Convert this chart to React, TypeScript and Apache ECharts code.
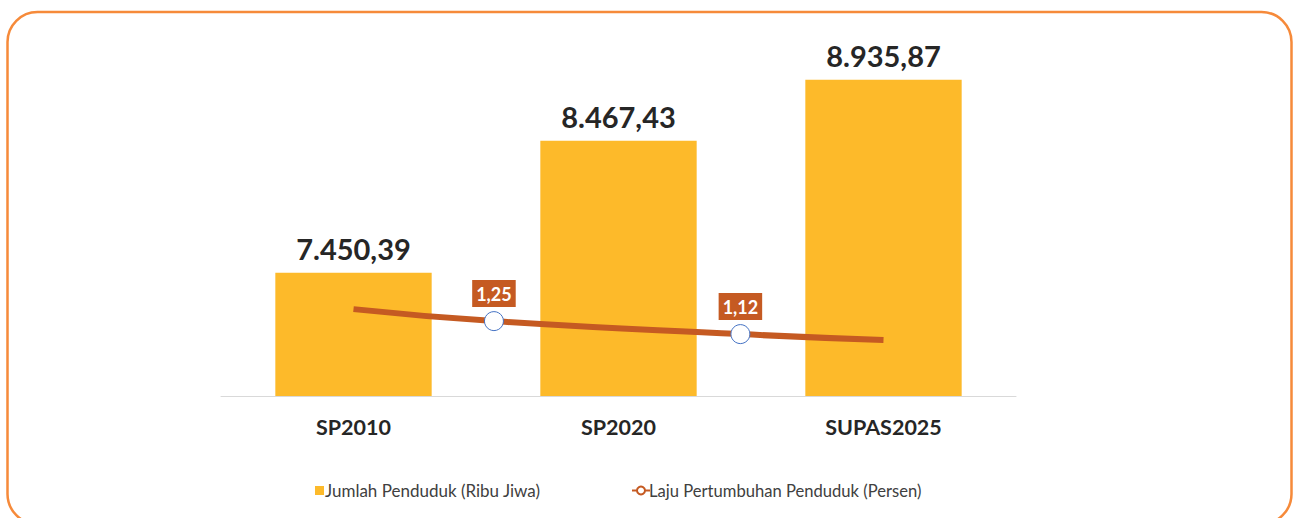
import React, { useEffect, useRef } from "react";
import * as echarts from "echarts";

const categories = ["SP2010", "SP2020", "SUPAS2025"];
const populationValues = [7450.39, 8467.43, 8935.87];
// growth line: x positions on the category band scale (0..3), y in percent
const growthX = [0.5, 1.03, 1.96, 2.5];
const growthValues = [1.37, 1.25, 1.12, 1.06];
const growthMarked = [false, true, true, false];

const popName = "Jumlah Penduduk (Ribu Jiwa)";
const growthName = "Laju Pertumbuhan Penduduk (Persen)";

function fmtId(v: number, d: number) {
  const [i, f] = v.toFixed(d).split(".");
  const ii = i.replace(/\B(?=(\d{3})+(?!\d))/g, ".");
  return f ? ii + "," + f : ii;
}

export default function App() {
  const ref = useRef<HTMLDivElement>(null);
  useEffect(() => {
    document.body.style.margin = "0";
    const chart = echarts.init(ref.current!, null, { renderer: "svg" });
    const FONT = "Lato, 'Open Sans', sans-serif";
    const lineColor = "#C55A22";
    chart.setOption({
      animation: false,
      backgroundColor: "#ffffff",
      graphic: [
        {
          type: "rect",
          shape: { x: 7.5, y: 12, width: 1284, height: 512, r: 30 },
          style: { fill: "none", stroke: "#F68A3A", lineWidth: 2.5 },
          silent: true,
        },
      ],
      grid: { left: 221, right: 277, top: 71.5, bottom: 122 },
      legend: [
        {
          data: [{ name: popName }],
          left: 310,
          top: 477,
          itemWidth: 9,
          itemHeight: 9,
          icon: "rect",
          textStyle: { fontFamily: FONT, fontSize: 17, color: "#404040", padding: [0, 0, 0, -4] },
        },
        {
          data: [
            {
              name: growthName,
              itemStyle: { color: "#ffffff", borderColor: lineColor, borderWidth: 2 },
            },
          ],
          left: 626,
          top: 477,
          itemWidth: 18,
          itemHeight: 10,
          textStyle: { fontFamily: FONT, fontSize: 16.6, color: "#404040", padding: [0, 0, 0, -6] },
        },
      ],
      xAxis: [
        {
          type: "category",
          data: categories,
          axisLine: { lineStyle: { color: "#D9D9D9", width: 1 } },
          axisTick: { show: false },
          axisLabel: {
            fontFamily: FONT,
            fontWeight: "bold",
            fontSize: 21.5,
            color: "#262626",
            margin: 20,
          },
        },
        { type: "value", min: 0, max: 3, show: false },
      ],
      yAxis: [
        { type: "value", min: 6500, max: 9000, show: false, splitLine: { show: false } },
        { type: "value", min: 0.5, max: 3.75, show: false, splitLine: { show: false } },
      ],
      series: [
        {
          name: popName,
          type: "bar",
          data: populationValues,
          barWidth: "59%",
          itemStyle: { color: "#FDBA2A" },
          label: {
            show: true,
            position: "top",
            distance: 10,
            formatter: (p: any) => fmtId(p.value, 2),
            fontFamily: FONT,
            fontWeight: "bold",
            fontSize: 29,
            color: "#262626",
          },
          z: 2,
        },
        {
          name: growthName,
          type: "line",
          xAxisIndex: 1,
          yAxisIndex: 1,
          smooth: true,
          lineStyle: { color: lineColor, width: 6 },
          itemStyle: { color: "#ffffff", borderColor: "#4472C4", borderWidth: 1 },
          symbol: "circle",
          symbolSize: 19,
          z: 3,
          data: growthX.map((x, i) => ({
            value: [x, growthValues[i]],
            symbol: growthMarked[i] ? "circle" : "none",
            label: {
              show: growthMarked[i],
              position: "top",
              distance: 4,
              formatter: (p: any) => fmtId(p.value[1], 2),
              backgroundColor: lineColor,
              color: "#ffffff",
              fontFamily: FONT,
              fontWeight: "bold",
              fontSize: 18,
              padding: [5, 4, 4, 4],
            },
          })),
        },
      ],
    });
    return () => chart.dispose();
  }, []);
  return <div ref={ref} style={{ width: 1293, height: 518 }} />;
}
